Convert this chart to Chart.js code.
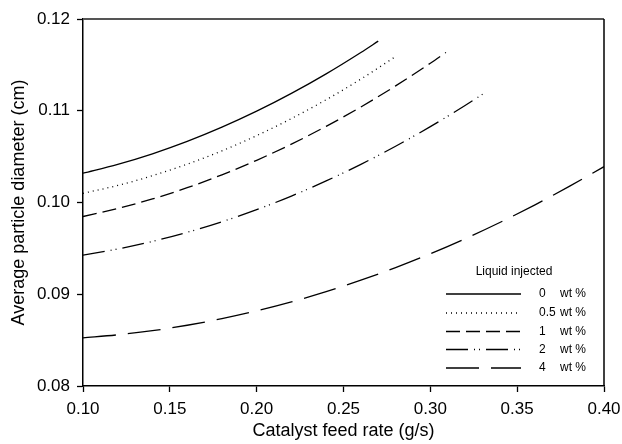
<!DOCTYPE html>
<html>
<head>
<meta charset="utf-8">
<script src="https://cdn.jsdelivr.net/npm/chart.js@4/dist/chart.umd.min.js"></script>
<style>
  html, body { margin: 0; padding: 0; background: #fff; }
  #wrap { width: 622px; height: 444px; }
</style>
</head>
<body>
<div id="wrap"><canvas id="chart" width="622" height="444"></canvas></div>
<script>
// values
const rate0 = [0.10, 0.12, 0.14, 0.16, 0.18, 0.20, 0.22, 0.24, 0.26, 0.27]
const dia0 = [0.1032, 0.10416, 0.10531, 0.10666, 0.10821, 0.10995, 0.11189, 0.11402, 0.11635, 0.11759]

const rate05 = [0.10, 0.12, 0.14, 0.16, 0.18, 0.20, 0.22, 0.24, 0.26, 0.28]
const dia05 = [0.1010, 0.10186, 0.10292, 0.10418, 0.10563, 0.10729, 0.10915, 0.11120, 0.11345, 0.11591]

const rate1 = [0.10, 0.12, 0.14, 0.16, 0.18, 0.20, 0.22, 0.24, 0.26, 0.28, 0.30, 0.309]
const dia1 = [0.09847, 0.09934, 0.10039, 0.10161, 0.10302, 0.10460, 0.10636, 0.10830, 0.11041, 0.11271, 0.11518, 0.11635]

const rate2 = [0.10, 0.12, 0.14, 0.16, 0.18, 0.20, 0.22, 0.24, 0.26, 0.28, 0.30, 0.32, 0.333]
const dia2 = [0.09427, 0.09493, 0.09576, 0.09675, 0.09790, 0.09922, 0.10070, 0.10235, 0.10416, 0.10613, 0.10827, 0.11057, 0.11216]

const rate4 = [0.10, 0.12, 0.14, 0.16, 0.18, 0.20, 0.22, 0.24, 0.26, 0.28, 0.30, 0.32, 0.34, 0.36, 0.38, 0.40]
const dia4 = [0.08525, 0.08558, 0.08603, 0.08662, 0.08734, 0.08819, 0.08917, 0.09028, 0.09153, 0.09290, 0.09441, 0.09605, 0.09782, 0.09972, 0.10175, 0.10391]

const seriesNames = ["0", "0.5", "1", "2", "4"]
const xTicks = [0.10, 0.15, 0.20, 0.25, 0.30, 0.35, 0.40]
const yTicks = [0.08, 0.09, 0.10, 0.11, 0.12]

const fontFamily = "'Liberation Sans', Arial, sans-serif"
const dashes = [[], [1, 4], [14, 6], [22, 6, 1, 4, 1, 6], [33, 12]]

function toPoints(xs, ys) {
    return xs.map((x, i) => ({x: x, y: ys[i]}))
}

const allRates = [rate0, rate05, rate1, rate2, rate4]
const allDia = [dia0, dia05, dia1, dia2, dia4]

const datasets = seriesNames.map((name, i) => ({
    label: name + " wt %",
    data: toPoints(allRates[i], allDia[i]),
    borderColor: "black",
    borderWidth: 1.3,
    borderDash: dashes[i],
    pointRadius: 0,
    fill: false,
    cubicInterpolationMode: "monotone"
}))

// top / right frame and the legend inside the plot
const framePlugin = {
    id: "frame",
    afterDraw(chart) {
        const ctx = chart.ctx
        const a = chart.chartArea
        ctx.save()
        ctx.strokeStyle = "#555"
        ctx.lineWidth = 2
        ctx.beginPath()
        ctx.moveTo(a.left, a.top)
        ctx.lineTo(a.right, a.top)
        ctx.stroke()
        ctx.strokeStyle = "black"
        ctx.lineWidth = 1.5
        ctx.beginPath()
        ctx.moveTo(a.right, a.top)
        ctx.lineTo(a.right, a.bottom)
        ctx.stroke()

        ctx.fillStyle = "black"
        ctx.font = "12px " + fontFamily
        ctx.textBaseline = "middle"
        ctx.textAlign = "center"
        ctx.fillText("Liquid injected", 514, 272)
        ctx.textAlign = "left"
        const rows = [294, 313, 331.5, 349.5, 368]
        chart.data.datasets.forEach((ds, i) => {
            ctx.setLineDash(ds.borderDash)
            ctx.lineWidth = 1.3
            ctx.beginPath()
            ctx.moveTo(446, rows[i])
            ctx.lineTo(521, rows[i])
            ctx.stroke()
            ctx.setLineDash([])
            ctx.fillText(seriesNames[i], 539, rows[i])
            ctx.fillText("wt %", 560, rows[i])
        })
        ctx.restore()
    }
}

new Chart(document.getElementById("chart").getContext("2d"), {
    type: "line",
    data: {datasets: datasets},
    options: {
        responsive: false,
        animation: false,
        layout: {padding: {left: 0, top: 19, right: 18, bottom: 0}},
        plugins: {legend: {display: false}, tooltip: {enabled: false}},
        scales: {
            x: {
                type: "linear",
                min: 0.10,
                max: 0.40,
                afterBuildTicks: s => { s.ticks = xTicks.map(v => ({value: v})) },
                afterFit: s => {
                    s.height = 58
                    s.paddingLeft = 0
                    s.paddingRight = 0
                },
                ticks: {
                    color: "black",
                    padding: 7,
                    font: {family: fontFamily, size: 17},
                    callback: v => v.toFixed(2)
                },
                grid: {drawOnChartArea: false, tickLength: 6, color: "black", tickWidth: 1.3},
                border: {color: "black", width: 1.5},
                title: {
                    display: true,
                    text: "Catalyst feed rate (g/s)",
                    color: "black",
                    font: {family: fontFamily, size: 18},
                    padding: {top: 0, bottom: 2}
                }
            },
            y: {
                type: "linear",
                min: 0.08,
                max: 0.12,
                afterBuildTicks: s => { s.ticks = yTicks.map(v => ({value: v})) },
                afterFit: s => {
                    s.width = 83
                    s.paddingTop = 0
                    s.paddingBottom = 0
                },
                ticks: {
                    color: "black",
                    padding: 7,
                    font: {family: fontFamily, size: 17},
                    callback: v => v.toFixed(2)
                },
                grid: {drawOnChartArea: false, tickLength: 6, color: "black", tickWidth: 1.3},
                border: {color: "black", width: 1.5},
                title: {
                    display: true,
                    text: "Average particle diameter (cm)",
                    color: "black",
                    font: {family: fontFamily, size: 18},
                    padding: {top: 8, bottom: 0}
                }
            }
        }
    },
    plugins: [framePlugin]
})
</script>
</body>
</html>
